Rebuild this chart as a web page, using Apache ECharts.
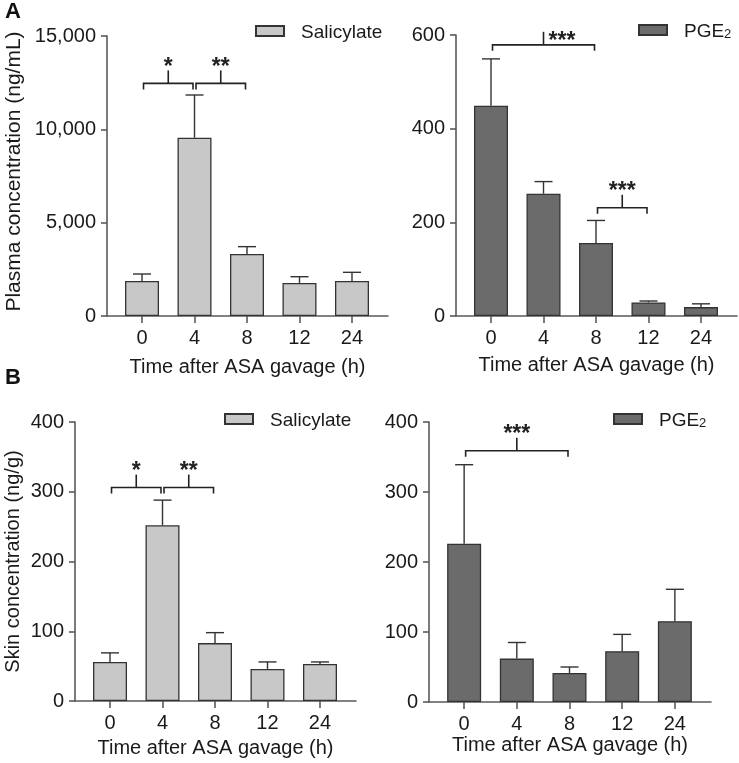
<!DOCTYPE html>
<html>
<head>
<meta charset="utf-8">
<script src="https://cdn.jsdelivr.net/npm/echarts@6/dist/echarts.min.js"></script>
<style>
html,body{margin:0;padding:0;background:#fff;}
#c{width:739px;height:763px;}
</style>
</head>
<body>
<div id="c"></div>
<script>
// ---- data ----
const categories = ['0', '4', '8', '12', '24'];
const catIndex = [0, 1, 2, 3, 4];

// Panel A: plasma
const plasmaSalMean = [1875, 9550, 3320, 1770, 1875];
const plasmaSalSD   = [375, 2290, 395, 335, 465];
const plasmaPgeMean = [449, 261, 156, 29, 19];
const plasmaPgeSD   = [100, 26, 48, 3, 7];

// Panel B: skin
const skinSalMean = [56, 252, 83, 46, 53];
const skinSalSD   = [13, 36, 15, 10, 3];
const skinPgeMean = [226, 62, 41.5, 72.6, 115.5];
const skinPgeSD   = [113, 23, 8.5, 24, 45.5];

// significance brackets: [fromIndex, toIndex, yValue]
const plasmaSalBrackets = [[0, 1, 12460], [1, 2, 12460]];
const plasmaSalStars = ['*', '**'];
const plasmaPgeBrackets = [[0, 2, 579], [2, 3, 231]];
const plasmaPgeStars = ['***', '***'];
const skinSalBrackets = [[0, 1, 306], [1, 2, 306]];
const skinSalStars = ['*', '**'];
const skinPgeBrackets = [[0, 2, 359]];
const skinPgeStars = ['***'];

// axis ranges / ticks
const plasmaSalTicks = {min: 0, max: 15000, interval: 5000};
const plasmaPgeTicks = {min: 0, max: 600, interval: 200};
const skinTicks = {min: 0, max: 400, interval: 100};

const xTitle = 'Time after ASA gavage (h)';
const plasmaTitle = 'Plasma concentration (ng/mL)';
const skinTitle = 'Skin concentration (ng/g)';

// ---- styling ----
const FONT = "'Liberation Sans', Arial, Helvetica, sans-serif";
const TXT = '#1a1a1a';
const AXIS = '#5a5a5a';
const LIGHT = '#c8c8c8';
const DARK = '#6b6b6b';
const EDGE = '#333333';

const grids = [
  {left: 107, top: 36, width: 281, height: 280},
  {left: 456, top: 35, width: 281, height: 281},
  {left: 75, top: 422, width: 281, height: 279},
  {left: 429, top: 422, width: 282, height: 280}
];

function xAxisFor(g, gap) {
  return {
    type: 'value', gridIndex: g, min: -0.667, max: 4.686,
    name: xTitle, nameLocation: 'middle', nameGap: gap,
    nameTextStyle: {fontFamily: FONT, fontSize: 20, color: TXT},
    splitLine: {show: false},
    axisLine: {show: true, onZero: false, lineStyle: {color: AXIS, width: 1.6}},
    axisTick: {show: true, customValues: catIndex, length: 7, lineStyle: {color: AXIS, width: 1.6}},
    axisLabel: {customValues: catIndex, margin: 12, fontFamily: FONT, fontSize: 20, color: TXT,
      formatter: v => categories[Math.round(v)]}
  };
}
function yAxisFor(g, t, name, gap, comma, nameSize, namePad) {
  return {
    type: 'value', gridIndex: g, min: t.min, max: t.max, interval: t.interval,
    name: name, nameLocation: 'middle', nameGap: gap,
    nameTextStyle: {fontFamily: FONT, fontSize: nameSize, color: TXT, padding: namePad},
    splitLine: {show: false},
    axisLine: {show: true, onZero: false, lineStyle: {color: AXIS, width: 1.6}},
    axisTick: {show: true, length: 6, lineStyle: {color: AXIS, width: 1.6}},
    axisLabel: {margin: 11, fontFamily: FONT, fontSize: 20, color: TXT,
      formatter: v => comma ? v.toLocaleString('en-US') : String(v)}
  };
}

function barSeries(name, g, means, color) {
  return {
    type: 'bar', name: name, xAxisIndex: g, yAxisIndex: g, barWidth: 34,
    itemStyle: {color: color, borderColor: EDGE, borderWidth: 1.3},
    data: means.map((m, i) => [catIndex[i], m]),
    z: 2
  };
}
function errSeries(g, means, sds) {
  return {
    type: 'custom', xAxisIndex: g, yAxisIndex: g, silent: true, z: 3,
    data: means.map((m, i) => [catIndex[i], m, m + sds[i]]),
    encode: {x: 0, y: [1, 2]},
    renderItem: function (params, api) {
      const p0 = api.coord([api.value(0), api.value(1)]);
      const p1 = api.coord([api.value(0), api.value(2)]);
      const st = {stroke: EDGE, lineWidth: 1.4};
      return {type: 'group', children: [
        {type: 'line', shape: {x1: p0[0], y1: p0[1], x2: p1[0], y2: p1[1]}, style: st},
        {type: 'line', shape: {x1: p1[0] - 9, y1: p1[1], x2: p1[0] + 9, y2: p1[1]}, style: st}
      ]};
    }
  };
}
function bracketSeries(g, brackets, stars) {
  return {
    type: 'custom', xAxisIndex: g, yAxisIndex: g, silent: true, z: 4, clip: false,
    data: brackets,
    encode: {x: [0, 1], y: 2},
    renderItem: function (params, api) {
      const a = api.coord([api.value(0), api.value(2)]);
      const b = api.coord([api.value(1), api.value(2)]);
      const x1 = a[0] + 1.5, x2 = b[0] - 1.5, y = a[1];
      const xm = (x1 + x2) / 2, top = y - 13;
      const gridTop = params.coordSys.y;
      const st = {stroke: '#222', lineWidth: 1.6, fill: null};
      const label = stars[params.dataIndex];
      let text;
      if (top - 14 < gridTop) {
        text = {type: 'text', style: {text: label, x: xm + 5, y: top + 10, align: 'left', verticalAlign: 'middle',
          font: 'bold 23px ' + FONT, fill: '#222'}};
      } else {
        text = {type: 'text', style: {text: label, x: xm, y: top - 3, align: 'center', verticalAlign: 'middle',
          font: 'bold 23px ' + FONT, fill: '#222'}};
      }
      return {type: 'group', children: [
        {type: 'polyline', shape: {points: [[x1, y + 6], [x1, y], [x2, y], [x2, y + 6]]}, style: st},
        {type: 'line', shape: {x1: xm, y1: y, x2: xm, y2: top}, style: st},
        text
      ]};
    }
  };
}

function legendFor(name, left, top) {
  return {
    data: [name], left: left, top: top, padding: 0, icon: 'rect', itemWidth: 28, itemHeight: 10,
    selectedMode: false,
    formatter: n => n === 'PGE2' ? '{m|PGE}{s|2}' : '{m|' + n + '}',
    textStyle: {padding: [0, 0, 0, 12], fontFamily: FONT, color: TXT,
      rich: {
        m: {fontFamily: FONT, fontSize: 19, lineHeight: 22, color: TXT, verticalAlign: 'bottom'},
        s: {fontFamily: FONT, fontSize: 13, lineHeight: 11, color: TXT, verticalAlign: 'bottom'}
      }}
  };
}

const option = {
  animation: false,
  backgroundColor: '#ffffff',
  title: [
    {text: 'A', left: 5, top: 1, padding: 0, textStyle: {fontFamily: FONT, fontWeight: 'bold', fontSize: 22, color: '#111'}},
    {text: 'B', left: 5, top: 367, padding: 0, textStyle: {fontFamily: FONT, fontWeight: 'bold', fontSize: 22, color: '#111'}}
  ],
  legend: [
    legendFor('Salicylate', 255, 23),
    legendFor('PGE2', 638, 22),
    legendFor('Salicylate', 224, 411),
    legendFor('PGE2', 613, 411)
  ],
  grid: grids,
  xAxis: [xAxisFor(0, 41), xAxisFor(1, 39), xAxisFor(2, 37), xAxisFor(3, 33)],
  yAxis: [
    yAxisFor(0, plasmaSalTicks, plasmaTitle, 82, true, 21, [0, 0, 0, 9]),
    yAxisFor(1, plasmaPgeTicks, '', 50, false, 20, 0),
    yAxisFor(2, skinTicks, skinTitle, 52, false, 20, 0),
    yAxisFor(3, skinTicks, '', 50, false, 20, 0)
  ],
  series: [
    barSeries('Salicylate', 0, plasmaSalMean, LIGHT),
    errSeries(0, plasmaSalMean, plasmaSalSD),
    bracketSeries(0, plasmaSalBrackets, plasmaSalStars),
    barSeries('PGE2', 1, plasmaPgeMean, DARK),
    errSeries(1, plasmaPgeMean, plasmaPgeSD),
    bracketSeries(1, plasmaPgeBrackets, plasmaPgeStars),
    barSeries('Salicylate', 2, skinSalMean, LIGHT),
    errSeries(2, skinSalMean, skinSalSD),
    bracketSeries(2, skinSalBrackets, skinSalStars),
    barSeries('PGE2', 3, skinPgeMean, DARK),
    errSeries(3, skinPgeMean, skinPgeSD),
    bracketSeries(3, skinPgeBrackets, skinPgeStars)
  ]
};

const chart = echarts.init(document.getElementById('c'), null, {renderer: 'canvas'});
chart.setOption(option);
</script>
</body>
</html>
